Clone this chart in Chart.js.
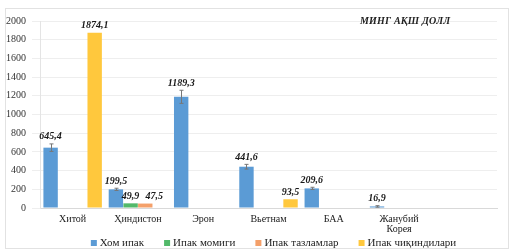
<!DOCTYPE html>
<html>
<head>
<meta charset="utf-8">
<script src="https://cdn.jsdelivr.net/npm/chart.js@4.4.0/dist/chart.umd.min.js"></script>
<style>
  html, body { margin: 0; padding: 0; background: #fff; }
  body { width: 517px; height: 251px; position: relative; overflow: hidden; }
  #frame { position: absolute; left: 5px; top: 8px; width: 504px; height: 241px; border: 1px solid #e2e2e2; box-sizing: border-box; }
  #unit { position: absolute; left: 360px; top: 15px; font: italic bold 10px "Liberation Serif", serif; color: #222; letter-spacing: 0.2px; }
</style>
</head>
<body>
<div id="frame"><canvas id="chart" width="502" height="239"></canvas></div>
<div id="unit">МИНГ АҚШ ДОЛЛ</div>
<script>
// categories (last slot is empty in the original)
const categories = ['Хитой', 'Ҳиндистон', 'Эрон', 'Вьетнам', 'БАА', ['Жанубий', 'Корея'], ''];
const seriesNames = ['Хом ипак', 'Ипак момиги', 'Ипак тазламлар', 'Ипак чиқиндилари'];
const rawSilk = [645.4, 199.5, 1189.3, 441.6, 209.6, 16.9, null];
const silkCotton = [null, 49.9, null, null, null, null, null];
const silkCombings = [null, 47.5, null, null, null, null, null];
const silkWaste = [1874.1, null, null, 93.5, null, null, null];
// small error whiskers on the raw silk bars
const rawSilkErr = [40, 12, 70, 25, 12, 8, null];
const yTicks = [0, 200, 400, 600, 800, 1000, 1200, 1400, 1600, 1800, 2000];

const colors = ['#5b9bd5', '#52b96a', '#f4a06a', '#ffc83d'];
const serif = '"Liberation Serif", "DejaVu Serif", serif';

const valueLabels = {
    id: 'valueLabels',
    afterDatasetsDraw(chart) {
        const ctx = chart.ctx;
        const yScale = chart.scales.y;
        ctx.save();
        // error bars first
        const meta0 = chart.getDatasetMeta(0);
        ctx.strokeStyle = '#777';
        ctx.lineWidth = 1;
        meta0.data.forEach((bar, i) => {
            const v = rawSilk[i], e = rawSilkErr[i];
            if (v == null || e == null) return;
            const x = Math.round(bar.x) + 0.5;
            const y1 = yScale.getPixelForValue(v + e);
            const y2 = yScale.getPixelForValue(Math.max(0, v - e));
            ctx.beginPath();
            ctx.moveTo(x, y1); ctx.lineTo(x, y2);
            ctx.moveTo(x - 2, y1); ctx.lineTo(x + 2, y1);
            ctx.moveTo(x - 2, y2); ctx.lineTo(x + 2, y2);
            ctx.stroke();
        });
        ctx.fillStyle = '#1a1a1a';
        ctx.font = 'italic bold 10px ' + serif;
        ctx.textAlign = 'center';
        ctx.textBaseline = 'bottom';
        chart.data.datasets.forEach((ds, di) => {
            const meta = chart.getDatasetMeta(di);
            meta.data.forEach((bar, i) => {
                const v = ds.data[i];
                if (v == null) return;
                let top = bar.y;
                if (di === 0 && rawSilkErr[i] != null) top = Math.min(top, yScale.getPixelForValue(v + rawSilkErr[i]));
                // Excel nudged the orange label right so it does not collide with its neighbour
                const dx = di === 2 ? 9 : 0;
                ctx.fillText(v.toFixed(1).replace('.', ','), bar.x + dx, top - 2);
            });
        });
        ctx.restore();
    }
};

// legend drawn under the axis labels, sitting close like the original
const bottomLegend = {
    id: 'bottomLegend',
    afterDraw(chart) {
        const ctx = chart.ctx;
        ctx.save();
        ctx.font = '11px ' + serif;
        ctx.textBaseline = 'middle';
        const box = 6, gapText = 3, gapItem = 20;
        const widths = seriesNames.map(n => box + gapText + ctx.measureText(n).width);
        const total = widths.reduce((a, b) => a + b, 0) + gapItem * (widths.length - 1);
        let x = (chart.chartArea.left + chart.chartArea.right) / 2 - total / 2 + 5;
        const y = chart.height - 5;
        seriesNames.forEach((n, i) => {
            ctx.fillStyle = colors[i];
            ctx.fillRect(x, y - box / 2, box, box);
            ctx.fillStyle = '#222';
            ctx.fillText(n, x + box + gapText, y);
            x += widths[i] + gapItem;
        });
        ctx.restore();
    }
};

new Chart(document.getElementById('chart'), {
    type: 'bar',
    data: {
        labels: categories,
        datasets: [rawSilk, silkCotton, silkCombings, silkWaste].map((d, i) => ({
            label: seriesNames[i],
            data: d,
            backgroundColor: colors[i],
            categoryPercentage: 0.9,
            barPercentage: 0.98,
            skipNull: false
        }))
    },
    options: {
        responsive: false,
        animation: false,
        layout: { padding: { left: 0, right: 11, top: 9, bottom: 6 } },
        plugins: {
            title: { display: false },
            tooltip: { enabled: false },
            legend: { display: false }
        },
        scales: {
            x: {
                grid: { display: false, drawTicks: false },
                border: { color: '#d9d9d9' },
                afterFit(scale) { scale.height = 34; },
                ticks: { color: '#222', padding: 6, font: { family: serif, size: 10, lineHeight: 1.05 }, maxRotation: 0, autoSkip: false }
            },
            y: {
                min: 0,
                max: 2000,
                afterBuildTicks(scale) { scale.ticks = yTicks.map(v => ({ value: v })); },
                afterFit(scale) { scale.width = 34; },
                grid: { color: '#eeeeee' },
                border: { color: '#e4e4e4' },
                ticks: {
                    color: '#333', padding: 6, autoSkip: false,
                    font: { family: serif, size: 10 },
                    callback: v => String(v)
                }
            }
        }
    },
    plugins: [valueLabels, bottomLegend]
});
</script>
</body>
</html>
